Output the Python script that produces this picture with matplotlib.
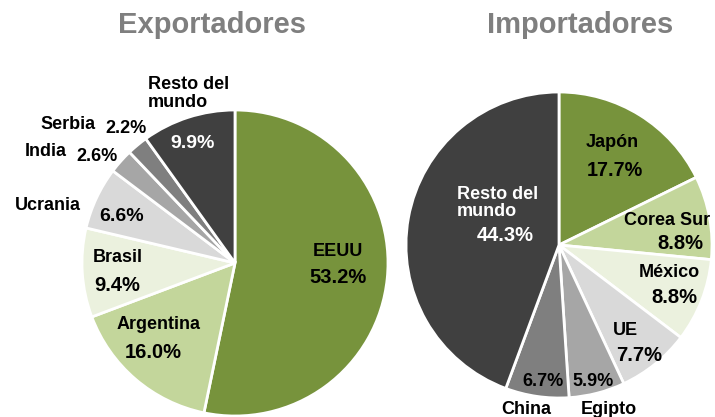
import matplotlib
matplotlib.use("Agg")
import matplotlib.pyplot as plt

plt.rcParams['font.family'] = ['Liberation Sans', 'DejaVu Sans']
plt.rcParams['font.weight'] = 'bold'

# data
exp_names = ["EEUU", "Argentina", "Brasil", "Ucrania", "India", "Serbia", "Resto del\nmundo"]
exp_values = [53.2, 16.0, 9.4, 6.6, 2.6, 2.2, 9.9]

imp_names = ["Japón", "Corea Sur", "México", "UE", "Egipto", "China", "Resto del\nmundo"]
imp_values = [17.7, 8.8, 8.8, 7.7, 5.9, 6.7, 44.3]

slice_colors = ["#77933C", "#C3D69B", "#EBF1DE", "#D9D9D9", "#A6A6A6", "#7F7F7F", "#404040"]

W, H = 715, 417
LIM = 1.1

# label layout in pie units (radius = 1): name pos, pct pos, name colour, pct colour, name align
exp_layout = [
    ((0.673, 0.072), (0.673, -0.092), "black", "black", "center"),
    ((-0.497, -0.405), (-0.536, -0.582), "black", "black", "center"),
    ((-0.765, 0.039), (-0.771, -0.144), "black", "black", "center"),
    ((-1.222, 0.373), (-0.739, 0.301), "black", "black", "center"),
    ((-1.235, 0.732), (-0.902, 0.693), "black", "black", "center"),
    ((-1.092, 0.902), (-0.712, 0.882), "black", "black", "center"),
    ((-0.569, 1.108), (-0.275, 0.784), "black", "white", "left"),
]
imp_layout = [
    ((0.346, 0.667), (0.366, 0.484), "black", "black", "center"),
    ((0.706, 0.157), (0.791, 0.013), "black", "black", "center"),
    ((0.719, -0.183), (0.752, -0.346), "black", "black", "center"),
    ((0.431, -0.556), (0.523, -0.719), "black", "black", "center"),
    ((0.327, -1.072), (0.222, -0.895), "black", "black", "center"),
    ((-0.216, -1.072), (-0.105, -0.895), "black", "black", "center"),
    ((-0.667, 0.275), (-0.353, 0.065), "white", "white", "left"),
]
exp_pct_sizes = [14.5, 14.5, 14.5, 14, 13, 13, 14]
imp_pct_sizes = [14.2, 14.5, 14.5, 14.5, 13, 13, 14.5]


def pie_axes(fig, cx, cy, r):
    """Axes whose data unit 1 equals the pie radius r (pixels), centred at cx, cy (from top-left)."""
    half = r * LIM
    ax = fig.add_axes([(cx - half) / W, (H - cy - half) / H, 2 * half / W, 2 * half / H])
    ax.set_xlim(-LIM, LIM)
    ax.set_ylim(-LIM, LIM)
    ax.axis("off")
    return ax


def draw_pie(ax, names, values, layout, pct_sizes):
    ax.pie(values, colors=slice_colors, startangle=90, counterclock=False,
           radius=1, wedgeprops=dict(edgecolor="white", linewidth=2))
    ax.set_xlim(-LIM, LIM)
    ax.set_ylim(-LIM, LIM)
    for name, val, lay, ps in zip(names, values, layout, pct_sizes):
        npos, ppos, ncol, pcol, align = lay
        ax.text(npos[0], npos[1], name, ha=align, va="center", fontsize=13,
                color=ncol, fontweight="bold", linespacing=1.05, clip_on=False)
        ax.text(ppos[0], ppos[1], f"{val:.1f}%", ha="center", va="center",
                fontsize=ps, color=pcol, fontweight="bold", clip_on=False)


fig = plt.figure(figsize=(W / 100, H / 100), dpi=100)

ax1 = pie_axes(fig, 235, 263, 153)
draw_pie(ax1, exp_names, exp_values, exp_layout, exp_pct_sizes)

ax2 = pie_axes(fig, 559, 245, 153)
draw_pie(ax2, imp_names, imp_values, imp_layout, imp_pct_sizes)

# titles
fig.text(212 / W, 1 - 33 / H, "Exportadores", ha="center", va="baseline",
         fontsize=21, color="#7F7F7F", fontweight="bold")
fig.text(580 / W, 1 - 33 / H, "Importadores", ha="center", va="baseline",
         fontsize=21, color="#7F7F7F", fontweight="bold")

fig.savefig("out.png", dpi=100)
